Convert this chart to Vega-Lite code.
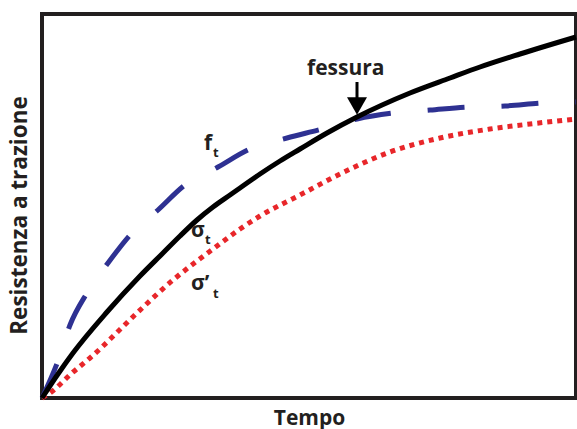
{
  "$schema": "https://vega.github.io/schema/vega-lite/v6.json",
  "width": 534,
  "height": 384,
  "autosize": {"type": "none"},
  "padding": {"left": 42, "top": 14, "right": 1, "bottom": 31},
  "background": "white",
  "config": {"view": {"stroke": "#231f20", "strokeWidth": 4}, "font": "Open Sans"},
  "datasets": {
    "curves": [
      {"series": "ft", "x": 0, "y": 0}, {"series": "ft", "x": 16, "y": 37}, {"series": "ft", "x": 28, "y": 73}, {"series": "ft", "x": 45, "y": 105}, {"series": "ft", "x": 66, "y": 135}, {"series": "ft", "x": 89, "y": 164}, {"series": "ft", "x": 116, "y": 188}, {"series": "ft", "x": 143, "y": 213}, {"series": "ft", "x": 176, "y": 231}, {"series": "ft", "x": 208, "y": 249}, {"series": "ft", "x": 245, "y": 260}, {"series": "ft", "x": 280, "y": 269}, {"series": "ft", "x": 315, "y": 279}, {"series": "ft", "x": 351, "y": 285}, {"series": "ft", "x": 388, "y": 288}, {"series": "ft", "x": 425, "y": 291}, {"series": "ft", "x": 463, "y": 292}, {"series": "ft", "x": 500, "y": 295}, {"series": "ft", "x": 534, "y": 296},
      {"series": "st", "x": 0, "y": 0}, {"series": "st", "x": 16, "y": 24}, {"series": "st", "x": 31, "y": 45}, {"series": "st", "x": 65, "y": 86}, {"series": "st", "x": 98, "y": 122}, {"series": "st", "x": 121, "y": 145}, {"series": "st", "x": 138, "y": 162}, {"series": "st", "x": 155, "y": 178}, {"series": "st", "x": 171, "y": 191}, {"series": "st", "x": 188, "y": 203}, {"series": "st", "x": 198, "y": 210}, {"series": "st", "x": 218, "y": 224}, {"series": "st", "x": 238, "y": 237}, {"series": "st", "x": 258, "y": 249}, {"series": "st", "x": 285, "y": 265}, {"series": "st", "x": 315, "y": 281}, {"series": "st", "x": 368, "y": 305}, {"series": "st", "x": 408, "y": 320}, {"series": "st", "x": 438, "y": 331}, {"series": "st", "x": 478, "y": 344}, {"series": "st", "x": 534, "y": 361},
      {"series": "spt", "x": 0, "y": 0}, {"series": "spt", "x": 8, "y": 5}, {"series": "spt", "x": 30, "y": 25}, {"series": "spt", "x": 48, "y": 40}, {"series": "spt", "x": 96, "y": 86}, {"series": "spt", "x": 131, "y": 118}, {"series": "spt", "x": 155, "y": 137}, {"series": "spt", "x": 171, "y": 149}, {"series": "spt", "x": 198, "y": 169}, {"series": "spt", "x": 218, "y": 182}, {"series": "spt", "x": 258, "y": 203}, {"series": "spt", "x": 298, "y": 224}, {"series": "spt", "x": 348, "y": 246}, {"series": "spt", "x": 398, "y": 260}, {"series": "spt", "x": 448, "y": 269}, {"series": "spt", "x": 488, "y": 274}, {"series": "spt", "x": 534, "y": 279}
    ],
    "labels": [
      {"text": "f", "x": 162, "y": 248},
      {"text": "σ", "x": 149, "y": 161},
      {"text": "σ’", "x": 149, "y": 108},
      {"text": "fessura", "x": 265, "y": 323}
    ],
    "subs": [
      {"text": "t", "x": 171, "y": 241},
      {"text": "t", "x": 163, "y": 154},
      {"text": "t", "x": 171, "y": 100}
    ],
    "arrow": [{"x": 315, "y": 316, "ytip": 292}]
  },
  "layer": [
    {
      "data": {"name": "curves"},
      "transform": [{"filter": "datum.series === 'ft'"}],
      "mark": {"type": "line", "color": "#2e3192", "strokeWidth": 5, "strokeDash": [37, 37], "interpolate": "monotone", "strokeCap": "butt"},
      "encoding": {
        "x": {"field": "x", "type": "quantitative", "scale": {"domain": [0, 534], "nice": false, "zero": false},
          "axis": {"title": "Tempo", "domain": false, "ticks": false, "labels": false, "grid": false, "titleFontSize": 21, "titleFont": "Open Sans", "titleFontWeight": "bold", "titleColor": "#231f20", "titlePadding": 9}},
        "y": {"field": "y", "type": "quantitative", "scale": {"domain": [0, 384], "nice": false, "zero": false},
          "axis": {"title": "Resistenza a trazione", "domain": false, "ticks": false, "labels": false, "grid": false, "titleFontSize": 22.5, "titleFont": "Open Sans", "titleFontWeight": "bold", "titleColor": "#231f20", "titleX": -11, "titleY": 201}}
      }
    },
    {
      "data": {"name": "curves"},
      "transform": [{"filter": "datum.series === 'spt'"}],
      "mark": {"type": "line", "color": "#e8262a", "strokeWidth": 5, "strokeDash": [5, 5], "interpolate": "monotone", "strokeCap": "butt"},
      "encoding": {"x": {"field": "x", "type": "quantitative"}, "y": {"field": "y", "type": "quantitative"}}
    },
    {
      "data": {"name": "curves"},
      "transform": [{"filter": "datum.series === 'st'"}],
      "mark": {"type": "line", "color": "#000000", "strokeWidth": 5, "interpolate": "monotone"},
      "encoding": {"x": {"field": "x", "type": "quantitative"}, "y": {"field": "y", "type": "quantitative"}}
    },
    {
      "data": {"name": "labels"},
      "mark": {"type": "text", "align": "left", "baseline": "alphabetic", "fontSize": 21, "fontWeight": "bold", "font": "Open Sans", "color": "#231f20"},
      "encoding": {"x": {"field": "x", "type": "quantitative"}, "y": {"field": "y", "type": "quantitative"}, "text": {"field": "text"}}
    },
    {
      "data": {"name": "subs"},
      "mark": {"type": "text", "align": "left", "baseline": "alphabetic", "fontSize": 13, "fontWeight": "bold", "font": "Open Sans", "color": "#231f20"},
      "encoding": {"x": {"field": "x", "type": "quantitative"}, "y": {"field": "y", "type": "quantitative"}, "text": {"field": "text"}}
    },
    {
      "data": {"name": "arrow"},
      "mark": {"type": "rule", "color": "#000000", "strokeWidth": 3},
      "encoding": {"x": {"field": "x", "type": "quantitative"}, "y": {"field": "y", "type": "quantitative"}, "y2": {"field": "ytip"}}
    },
    {
      "data": {"name": "arrow"},
      "mark": {"type": "point", "shape": "triangle-down", "filled": true, "size": 400, "color": "#000000", "opacity": 1},
      "encoding": {"x": {"field": "x", "type": "quantitative"}, "y": {"field": "ytip", "type": "quantitative"}}
    }
  ]
}
